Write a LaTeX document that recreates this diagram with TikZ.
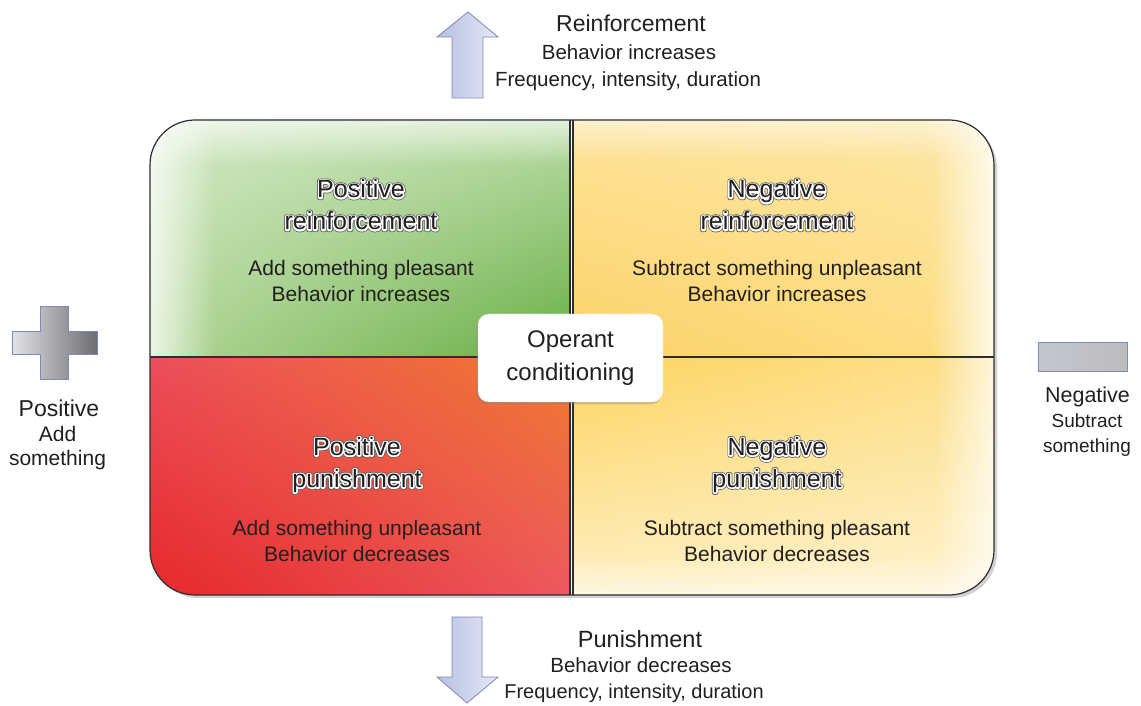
\documentclass[tikz,border=0pt]{standalone}
\usepackage{fontspec}
\setmainfont{Liberation Sans}
\usetikzlibrary{shadows,shadings,fadings}
\definecolor{txt}{HTML}{231F20}
\definecolor{qborder}{HTML}{2E2E2E}
\definecolor{arrowL}{HTML}{B6BFE2}
\definecolor{arrowR}{HTML}{E6E9F6}
\definecolor{arrowB}{HTML}{7E87B4}
\definecolor{plusL}{HTML}{E2E2E5}
\definecolor{plusR}{HTML}{6C6C72}
\definecolor{signB}{HTML}{7F8AB6}
\definecolor{haloedge}{HTML}{5A5A5A}
\tikzset{
  ttl/.style={font=\fontsize{25}{32}\selectfont, align=center, text=txt, inner sep=0pt},
  sub/.style={font=\fontsize{21}{26}\selectfont, align=center, text=txt, inner sep=0pt},
  lab/.style={text=txt, inner sep=0pt, anchor=base},
  qline/.style={draw=qborder, line width=1.2pt},
  bigarrow/.style={left color=arrowL, right color=arrowR, draw=arrowB, line width=0.8pt},
  signshape/.style={draw=signB, line width=1pt},
  glow/.style={fill=white, fill opacity=#1},
}
\newcommand\strokeon[1]{\special{pdf:literal direct 1 Tr #1 w 1 j}}
\newcommand\strokeoff{\special{pdf:literal direct 0 Tr 1 w}}
\newcommand\halonode[3]{%
  \node[ttl, text=haloedge] at (#2) {\strokeon{4.4}#3\strokeoff};
  \node[ttl, text=white] at (#2) {\strokeon{3.0}#3\strokeoff};
  \node[ttl] (#1) at (#2) {#3};
}
\begin{document}
\begin{tikzpicture}[x=1pt,y=1pt]
\useasboundingbox (0,0) rectangle (1141,705);
\fill[white] (0,0) rectangle (1141,705);

% outer shadow
\fill[black, opacity=0.18, rounded corners=45pt] (153,107) rectangle (997,582);

% quadrants
\begin{scope}
  \clip[rounded corners=45pt] (150,110) rectangle (994,585);
  % top left: green
  \shade[upper left={rgb,255:red,214;green,234;blue,202}, upper right={rgb,255:red,184;green,219;blue,164},
         lower left={rgb,255:red,178;green,214;blue,152}, lower right={rgb,255:red,104;green,174;blue,68}]
        (150,348) rectangle (570,585);
  \fill[white, path fading=east, fill opacity=0.75] (150,348) rectangle (215,585);
  \fill[white, path fading=south, fill opacity=0.6] (150,540) rectangle (570,585);
  % top right: yellow
  \shade[upper left={rgb,255:red,253;green,227;blue,152}, upper right={rgb,255:red,253;green,231;blue,166},
         lower left={rgb,255:red,252;green,210;blue,104}, lower right={rgb,255:red,253;green,222;blue,134}]
        (573,348) rectangle (994,585);
  \fill[white, path fading=west, fill opacity=0.8] (930,348) rectangle (994,585);
  \fill[white, path fading=south, fill opacity=0.5] (573,545) rectangle (994,585);
  % bottom left: red
  \shade[upper left={rgb,255:red,236;green,78;blue,92}, upper right={rgb,255:red,240;green,122;blue,46},
         lower left={rgb,255:red,230;green,40;blue,42}, lower right={rgb,255:red,236;green,88;blue,96}]
        (150,110) rectangle (570,348);
  % bottom right: yellow
  \shade[upper left={rgb,255:red,253;green,212;blue,96}, upper right={rgb,255:red,253;green,224;blue,140},
         lower left={rgb,255:red,254;green,240;blue,196}, lower right={rgb,255:red,254;green,242;blue,206}]
        (573,110) rectangle (994,348);
  \fill[white, path fading=west, fill opacity=0.7] (935,110) rectangle (994,348);
  \fill[white, path fading=north, fill opacity=0.5] (573,110) rectangle (994,150);
  \fill[white] (570,110) rectangle (573,585);
\end{scope}
\draw[qline, rounded corners=45pt] (150,110) rectangle (994,585);
\draw[qline] (570,110) -- (570,585);
\draw[qline] (573,110) -- (573,585);
\draw[qline] (150,348) -- (570,348);
\draw[qline] (573,348) -- (994,348);

% quadrant texts
\halonode{tlT}{361,500}{Positive\\reinforcement}
\node[sub] (tlS) at (361,424) {Add something pleasant\\Behavior increases};
\halonode{trT}{777,500}{Negative\\reinforcement}
\node[sub] (trS) at (777,424) {Subtract something unpleasant\\Behavior increases};
\halonode{blT}{357,240}{Positive\\punishment}
\node[sub] (blS) at (357,164) {Add something unpleasant\\Behavior decreases};
\halonode{brT}{777,240}{Negative\\punishment}
\node[sub] (brS) at (777,164) {Subtract something pleasant\\Behavior decreases};

% center box
\node[fill=white, draw=black!10, rounded corners=11pt, minimum width=185pt, minimum height=88pt,
      drop shadow={opacity=0.35, shadow xshift=-1.5pt, shadow yshift=-2.5pt},
      font=\fontsize{24}{33}\selectfont, align=center, text=txt, inner sep=0pt]
      (center) at (570.5,347) {Operant\\conditioning};

% top arrow
\shade[bigarrow] (452,607) -- (452,668) -- (437,668) -- (468,693) -- (498,668) -- (483,668) -- (483,607) -- cycle;
\node[lab, font=\fontsize{23}{27}\selectfont] (rT) at (631,673) {Reinforcement};
\node[lab, font=\fontsize{20.5}{25}\selectfont] (rB) at (629,645) {Behavior increases};
\node[lab, font=\fontsize{20.5}{25}\selectfont] (rF) at (628,618) {Frequency, intensity, duration};

% bottom arrow
\shade[bigarrow] (452,88) -- (452,28) -- (437,28) -- (467,2) -- (498,28) -- (482,28) -- (482,88) -- cycle;
\node[lab, font=\fontsize{23.5}{27}\selectfont] (pT) at (640,58) {Punishment};
\node[lab, font=\fontsize{20.5}{25}\selectfont] (pB) at (641,33) {Behavior decreases};
\node[lab, font=\fontsize{20}{25}\selectfont] (pF) at (634,7) {Frequency, intensity, duration};

% plus sign
\shade[signshape, left color=plusL, right color=plusR]
  (40,398) -- (68,398) -- (68,373) -- (97,373) -- (97,350) -- (68,350) -- (68,325) -- (40,325)
  -- (40,350) -- (12,350) -- (12,373) -- (40,373) -- cycle;
\node[lab, font=\fontsize{23}{27}\selectfont] (posT) at (59,288) {Positive};
\node[lab, font=\fontsize{21}{25}\selectfont] (posA) at (57.5,263) {Add};
\node[lab, font=\fontsize{21}{25}\selectfont] (posS) at (57.5,240) {something};

% minus sign
\shade[signshape, left color={rgb,255:red,196;green,198;blue,204}, middle color={rgb,255:red,232;green,232;blue,234},
       right color={rgb,255:red,188;green,188;blue,192}] (1038,333) rectangle (1127,362);
\node[lab, font=\fontsize{21.5}{25}\selectfont] (negT) at (1087.5,302) {Negative};
\node[lab, font=\fontsize{19}{24}\selectfont] (negS) at (1087,277) {Subtract};
\node[lab, font=\fontsize{19}{24}\selectfont] (negM) at (1087,252) {something};
\end{tikzpicture}
\end{document}
